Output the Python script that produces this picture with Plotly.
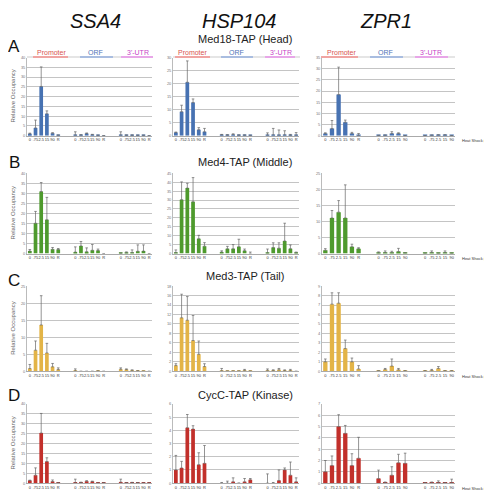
import plotly.graph_objects as go

# ---------------- data ----------------
genes = ["SSA4", "HSP104", "ZPR1"]
subunits = ["Med18-TAP (Head)", "Med4-TAP (Middle)", "Med3-TAP (Tail)", "CycC-TAP (Kinase)"]
panel_letters = ["A", "B", "C", "D"]
regions = ["Promoter", "ORF", "3'-UTR"]
time_labels = ["0", ".75", "2.5", "15", "90", "R"]
points_per_region = {"SSA4": [6, 6, 6], "HSP104": [6, 6, 6], "ZPR1": [6, 5, 5]}
heat_shock_label = "Heat Shock (min)"
y_axis_title = "Relative Occupancy"

# Med18-TAP (Head): Promoter | ORF | 3'-UTR
med18_ssa4 = [1.0, 4.0, 25.2, 11.2, 1.3, 0.3,  0.3, 0.3, 1.1, 0.5, 0.2, 0.1,  0.3, 0.2, 0.2, 0.2, 0.2, 0.1]
med18_ssa4_err = [0.3, 4.0, 10.0, 1.5, 0.2, 0.0,  1.7, 0.2, 0.3, 0.2, 0.1, 0.0,  1.7, 0.2, 0.2, 0.1, 0.1, 0.0]
med18_hsp104 = [1.2, 9.2, 20.5, 12.7, 2.3, 1.5,  0.3, 0.2, 0.5, 0.2, 0.2, 0.1,  0.2, 0.3, 0.2, 0.3, 0.1, 0.2]
med18_hsp104_err = [0.2, 2.5, 8.2, 1.4, 0.8, 1.3,  0.2, 0.2, 0.2, 0.1, 0.1, 0.1,  0.9, 2.5, 2.0, 1.6, 0.4, 1.0]
med18_zpr1 = [1.0, 3.2, 18.4, 6.0, 1.0, 0.1,  0.1, 0.2, 1.0, 1.0, 0.1,  0.1, 0.2, 0.3, 0.3, 0.1]
med18_zpr1_err = [0.3, 3.6, 12.3, 1.0, 0.5, 0.9,  0.1, 0.1, 0.8, 0.3, 0.0,  0.0, 0.1, 0.1, 0.1, 0.0]

# Med4-TAP (Middle)
med4_ssa4 = [1.2, 15.1, 30.9, 16.8, 2.1, 2.0,  0.7, 3.8, 0.9, 1.6, 1.5, 0.0,  0.1, 0.3, 0.5, 1.1, 1.2, 0.0]
med4_ssa4_err = [0.8, 5.9, 4.5, 11.2, 0.9, 0.5,  2.6, 2.2, 1.9, 2.9, 0.7, 0.0,  0.1, 0.5, 1.3, 3.2, 3.1, 0.0]
med4_hsp104 = [0.5, 30.2, 36.7, 29.0, 8.3, 4.1,  0.8, 2.6, 2.6, 3.8, 1.6, 0.0,  0.2, 3.3, 3.0, 7.0, 2.7, 0.3]
med4_hsp104_err = [1.5, 10.0, 2.7, 13.6, 1.9, 2.0,  0.7, 1.4, 2.4, 4.2, 0.9, 0.8,  2.3, 2.7, 3.0, 10.0, 2.1, 0.5]
med4_zpr1 = [1.0, 11.1, 12.9, 11.1, 2.1, 1.5,  0.1, 0.3, 0.2, 0.6, 0.2,  0.1, 0.3, 0.1, 0.3, 0.1]
med4_zpr1_err = [0.5, 2.3, 3.6, 10.3, 0.8, 0.3,  0.4, 0.5, 0.5, 1.0, 0.0,  0.0, 0.5, 0.0, 0.5, 0.0]

# Med3-TAP (Tail)
med3_ssa4 = [0.8, 6.2, 13.6, 5.4, 1.3, 0.5,  0.1, 0.0, 0.0, 0.0, 0.1, 0.0,  0.6, 0.5, 0.3, 0.1, 0.05, 0.0]
med3_ssa4_err = [1.2, 2.7, 8.6, 2.8, 1.0, 0.5,  0.6, 0.0, 0.0, 0.0, 0.0, 0.0,  0.4, 0.2, 0.1, 0.05, 0.0, 0.0]
med3_hsp104 = [1.2, 11.3, 10.8, 6.5, 3.6, 1.0,  0.1, 0.05, 0.05, 0.05, 0.2, 0.05,  0.2, 0.2, 0.3, 0.1, 0.1, 0.0]
med3_hsp104_err = [0.4, 5.0, 5.0, 5.3, 2.8, 0.6,  0.5, 0.0, 0.0, 0.0, 0.2, 0.0,  0.3, 0.1, 0.3, 0.2, 0.3, 0.0]
med3_zpr1 = [1.0, 7.1, 7.2, 2.4, 1.0, 0.25,  0.05, 0.2, 0.55, 0.15, 0.05,  0.05, 0.1, 0.3, 0.05, 0.05]
med3_zpr1_err = [0.3, 1.2, 1.1, 0.9, 0.4, 0.35,  0.0, 0.1, 0.75, 0.15, 0.0,  0.0, 0.1, 0.2, 0.0, 0.0]

# CycC-TAP (Kinase)
cycc_ssa4 = [1.3, 4.0, 25.3, 10.9, 0.8, 0.2,  0.2, 0.3, 1.0, 0.8, 0.1, 0.2,  0.5, 0.2, 0.3, 0.2, 0.1, 0.1]
cycc_ssa4_err = [0.2, 3.7, 9.9, 1.9, 0.8, 0.0,  1.8, 0.2, 0.2, 0.2, 0.0, 0.0,  1.5, 0.0, 0.1, 0.1, 0.0, 0.0]
cycc_hsp104 = [1.0, 1.15, 4.2, 4.1, 1.4, 1.5,  0.0, 0.0, 0.1, 0.0, 0.1, 0.25,  0.0, 0.0, 0.2, 1.0, 0.6, 0.1]
cycc_hsp104_err = [1.1, 0.5, 1.0, 0.25, 0.9, 1.35,  0.05, 0.15, 0.3, 0.0, 0.25, 0.1,  0.7, 0.05, 0.8, 0.15, 1.0, 0.3]
cycc_zpr1 = [1.0, 1.55, 5.0, 4.4, 1.55, 2.2,  0.4, 0.05, 0.7, 1.8, 1.75,  0.02, 0.03, 0.05, 0.02, 0.05]
cycc_zpr1_err = [1.0, 0.85, 1.05, 0.7, 1.05, 1.85,  0.75, 0.05, 0.75, 0.75, 0.9,  0.03, 0.07, 0.15, 0.03, 0.3]

panel_values = [
    [(med18_ssa4, med18_ssa4_err), (med18_hsp104, med18_hsp104_err), (med18_zpr1, med18_zpr1_err)],
    [(med4_ssa4, med4_ssa4_err), (med4_hsp104, med4_hsp104_err), (med4_zpr1, med4_zpr1_err)],
    [(med3_ssa4, med3_ssa4_err), (med3_hsp104, med3_hsp104_err), (med3_zpr1, med3_zpr1_err)],
    [(cycc_ssa4, cycc_ssa4_err), (cycc_hsp104, cycc_hsp104_err), (cycc_zpr1, cycc_zpr1_err)],
]
y_max = [[40, 30, 35], [40, 45, 25], [25, 18, 9], [40, 6, 7]]
y_step = [[5, 5, 5], [5, 5, 5], [5, 2, 1], [5, 1, 1]]

# ---------------- styling / layout ----------------
W, H = 492, 490
FONT = "Liberation Sans, Arial, sans-serif"
bar_colors = ["#4772b2", "#4e9a2d", "#e3b447", "#c2302b"]
region_text_colors = ["#d9534f", "#4f74b8", "#c844c8"]
region_line_colors = ["#f0a4a2", "#a9bde0", "#e8a6e8"]

col_px = [(19, 144), (165, 291), (314, 447)]
row_px = [(47, 126), (164, 245), (278, 364), (397, 477)]


def fx(px):
    return px / W


def fy(py):
    return 1 - py / H


def region_positions(sizes):
    pos, labels, off = [], [], 0
    for s in sizes:
        pos.extend(range(off, off + s))
        labels.extend(time_labels[:s])
        off += s + 2
    return pos, labels, off - 2


fig = go.Figure()
layout = {}

for r in range(4):
    for c, gene in enumerate(genes):
        n = r * 3 + c + 1
        xs, labels, span = region_positions(points_per_region[gene])
        vals, errs = panel_values[r][c]
        err_arr = [e if e > 0 else None for e in errs]
        fig.add_trace(go.Bar(
            x=xs, y=vals,
            xaxis="x" if n == 1 else f"x{n}",
            yaxis="y" if n == 1 else f"y{n}",
            marker=dict(color=bar_colors[r], line=dict(width=0)),
            error_y=dict(type="data", array=err_arr, symmetric=False,
                         arrayminus=[0] * len(errs), color="#666666",
                         thickness=0.7, width=1.3),
            showlegend=False, hoverinfo="y",
        ))
        x0, x1 = col_px[c]
        y0, y1 = row_px[r]
        xname = "xaxis" if n == 1 else f"xaxis{n}"
        yname = "yaxis" if n == 1 else f"yaxis{n}"
        layout[xname] = dict(
            domain=[fx(x0), fx(x1)], anchor="y" if n == 1 else f"y{n}",
            range=[-0.5, span - 0.5], tickvals=xs, ticktext=labels,
            tickfont=dict(size=4, color="#333333", family=FONT), tickangle=0,
            showgrid=False, zeroline=False, showline=True, linecolor="#aaaaaa",
            linewidth=0.7, ticks="", fixedrange=True, ticklabelstandoff=0,
        )
        layout[yname] = dict(
            domain=[fy(y1), fy(y0)], anchor="x" if n == 1 else f"x{n}",
            range=[0, y_max[r][c]], dtick=y_step[r][c], tick0=0,
            tickfont=dict(size=4, color="#777777", family=FONT),
            showgrid=True, gridcolor="#c4c4c4", gridwidth=0.8,
            zeroline=False, showline=True, linecolor="#bbbbbb", linewidth=0.7,
            ticks="", ticklen=0, fixedrange=True,
        )

annotations = []
shapes = []


def note(text, px, py, size, color, **kw):
    d = dict(text=text, x=fx(px), y=fy(py), xref="paper", yref="paper",
             xanchor="center", yanchor="middle", showarrow=False,
             font=dict(size=size, color=color, family=FONT))
    d.update(kw)
    annotations.append(d)


# column (gene) titles
gene_title_px = [(87, 10), (231, 10), (378, 10)]
for gene, (gx, gy) in zip(genes, gene_title_px):
    note(f"<i>{gene}</i>", gx, gy, 20, "#111111")

# subunit titles
subunit_title_y = [28, 153, 268, 388]
for name, sy in zip(subunits, subunit_title_y):
    note(name, 237, sy, 11, "#222222")

# panel letters
letter_y = [36, 153, 272, 388]
for letter, ly in zip(panel_letters, letter_y):
    note(letter, 6, ly, 17, "#111111")

# y-axis title on SSA4 column
for r in range(4):
    y0, y1 = row_px[r]
    note(y_axis_title, 5, (y0 + y1) / 2, 6, "#666666", textangle=-90)

# heat shock labels (right-anchored so they stay inside the page)
heat_y = [131, 250, 369, 482]
for hy in heat_y:
    note(heat_shock_label, 488, hy, 4, "#333333", xanchor="right")

# region headers (row A)
header_label_px = [(43, 87, 130), (184, 228, 273), (333, 377, 423)]
header_line_px = [((25, 60), (72, 105), (113, 145)),
                  ((167, 202), (213, 245), (257, 287)),
                  ((313, 350), (362, 395), (407, 440))]
header_span_px = [(19, 145), (165, 292), (313, 447)]
for c in range(3):
    a, b = header_span_px[c]
    shapes.append(dict(type="line", xref="paper", yref="paper", x0=fx(a), x1=fx(b),
                       y0=fy(46.5), y1=fy(46.5), line=dict(color="#dddddd", width=1.5)))
    for k, region in enumerate(regions):
        la, lb = header_line_px[c][k]
        shapes.append(dict(type="line", xref="paper", yref="paper", x0=fx(la), x1=fx(lb),
                           y0=fy(46.5), y1=fy(46.5), line=dict(color=region_line_colors[k], width=2)))
        note(region, header_label_px[c][k], 41.5, 7, region_text_colors[k])

fig.update_layout(
    width=W, height=H, autosize=False,
    margin=dict(l=0, r=0, t=0, b=0),
    paper_bgcolor="white", plot_bgcolor="white",
    bargap=0.35, showlegend=False,
    annotations=annotations, shapes=shapes,
    font=dict(family=FONT),
    **layout,
)

fig.write_html("out.html")
